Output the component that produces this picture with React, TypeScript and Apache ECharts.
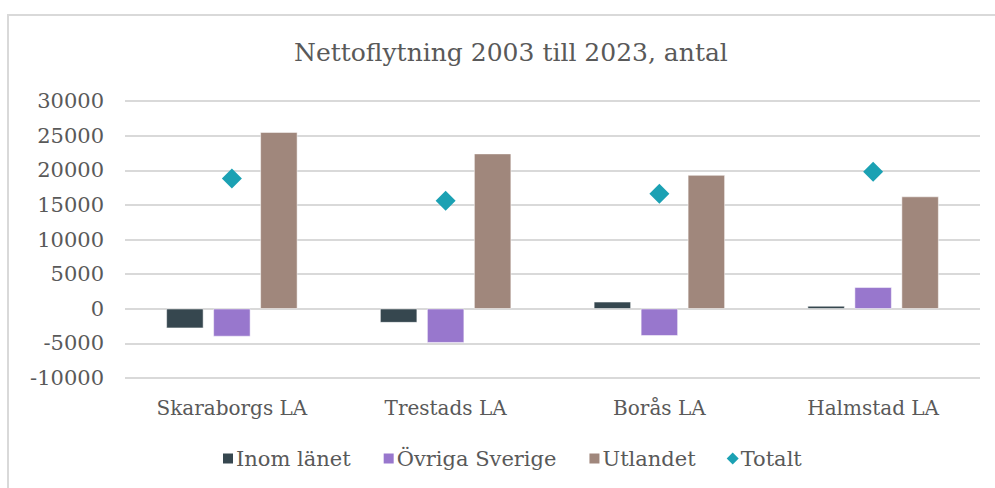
import React, { useEffect, useRef } from "react";
import * as echarts from "echarts";

const categories = ["Skaraborgs LA", "Trestads LA", "Borås LA", "Halmstad LA"];
const inomLanet = [-2800, -2000, 1000, 400];
const ovrigaSverige = [-4000, -4900, -3900, 3100];
const utlandet = [25500, 22400, 19300, 16200];
const totalt = [18800, 15600, 16600, 19800];
const seriesNames = ["Inom länet", "Övriga Sverige", "Utlandet", "Totalt"];
const titleText = "Nettoflytning 2003 till 2023, antal";

const SERIF = "'DejaVu Serif', Georgia, serif";
const TEXT = "#595959";

export default function App() {
  const ref = useRef<HTMLDivElement>(null);
  useEffect(() => {
    if (!ref.current) return;
    const chart = echarts.init(ref.current, undefined, { renderer: "svg" });
    chart.setOption({
      animation: false,
      backgroundColor: "#ffffff",
      title: {
        text: titleText,
        left: 289,
        top: 35,
        textStyle: { fontFamily: SERIF, fontSize: 25, fontWeight: "normal", color: TEXT },
      },
      graphic: [
        {
          type: "rect",
          shape: { x: 8, y: 15, width: 1000, height: 500 },
          style: { fill: "none", stroke: "#d9d9d9", lineWidth: 2 },
          silent: true,
        },
      ],
      legend: {
        bottom: 14,
        left: 216,
        itemWidth: 12,
        itemHeight: 12,
        itemGap: 31,
        textStyle: { fontFamily: SERIF, fontSize: 21, color: TEXT, padding: [0, 0, 0, -3] },
        data: [
          { name: seriesNames[0], icon: "rect" },
          { name: seriesNames[1], icon: "rect" },
          { name: seriesNames[2], icon: "rect" },
          { name: seriesNames[3], icon: "diamond" },
        ],
      },
      grid: { left: 125, right: 15, top: 101, bottom: 110, containLabel: false },
      xAxis: {
        type: "category",
        data: categories,
        axisLine: { show: false },
        axisTick: { show: false },
        axisLabel: { fontFamily: SERIF, fontSize: 20, color: TEXT, margin: 20 },
      },
      yAxis: {
        type: "value",
        min: -10000,
        max: 30000,
        interval: 5000,
        axisLine: { show: false },
        axisTick: { show: false },
        splitLine: { lineStyle: { color: "#d9d9d9", width: 2 } },
        axisLabel: {
          fontFamily: SERIF,
          fontSize: 21,
          color: TEXT,
          margin: 21,
          formatter: (v: number) => String(v),
        },
      },
      series: [
        {
          name: seriesNames[0],
          type: "bar",
          data: inomLanet,
          barWidth: 37,
          barGap: "27%",
          itemStyle: { color: "#36474f", borderColor: "#ffffff", borderWidth: 0.5 },
        },
        {
          name: seriesNames[1],
          type: "bar",
          data: ovrigaSverige,
          barWidth: 37,
          barGap: "27%",
          itemStyle: { color: "#9877cd", borderColor: "#ffffff", borderWidth: 0.5 },
        },
        {
          name: seriesNames[2],
          type: "bar",
          data: utlandet,
          barWidth: 37,
          barGap: "27%",
          itemStyle: { color: "#a0877c", borderColor: "#ffffff", borderWidth: 0.5 },
        },
        {
          name: seriesNames[3],
          type: "scatter",
          data: totalt,
          symbol: "diamond",
          symbolSize: 20,
          itemStyle: { color: "#1ba1b3", opacity: 1 },
          z: 5,
        },
      ],
    });
    return () => chart.dispose();
  }, []);
  return (
    <div
      ref={ref}
      style={{ position: "absolute", left: 0, top: 0, width: 995, height: 488 }}
    />
  );
}
